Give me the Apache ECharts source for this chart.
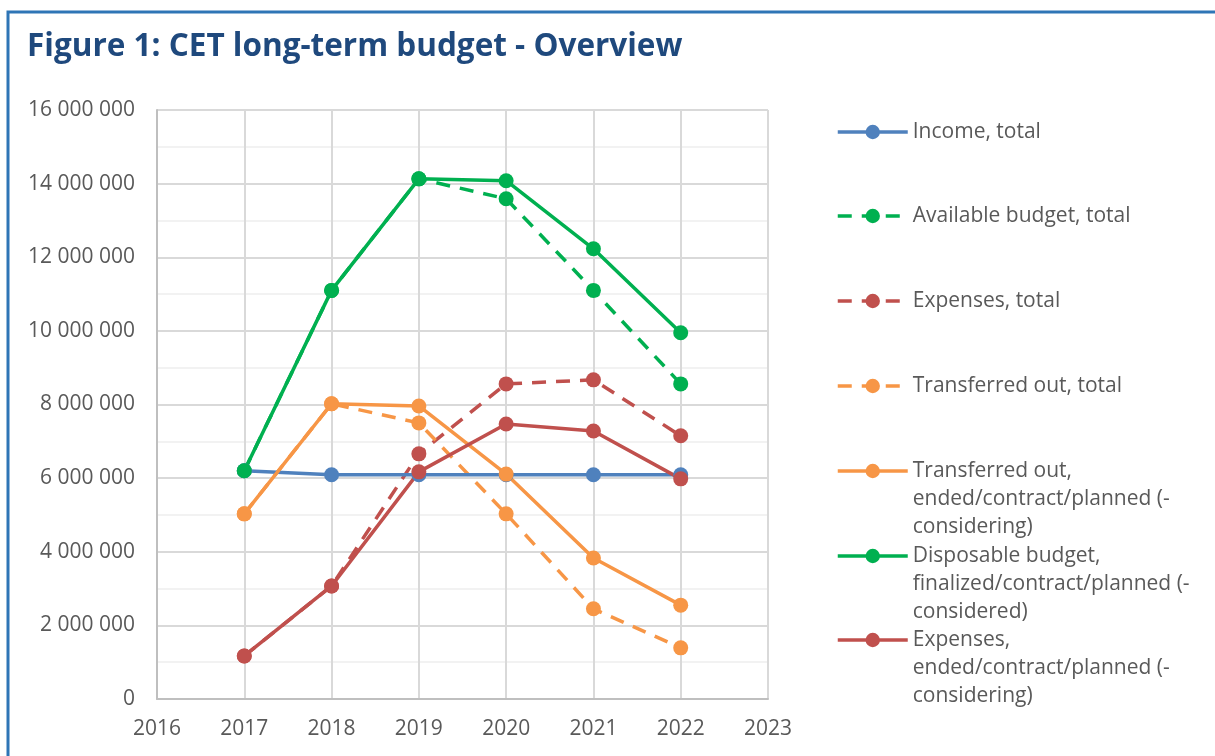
<!DOCTYPE html>
<html>
<head>
<meta charset="utf-8">
<script src="https://cdn.jsdelivr.net/npm/echarts@6/dist/echarts.min.js"></script>
<style>
  html, body { margin: 0; padding: 0; background: #fff; }
  #chart { width: 1215px; height: 756px; }
</style>
</head>
<body>
<div id="chart"></div>
<script>
// years on the x axis
const years = [2017, 2018, 2019, 2020, 2021, 2022];

// values (NOK)
const incomeTotal = [6200000, 6090000, 6090000, 6090000, 6090000, 6090000];
const availableTotal = [6200000, 11100000, 14130000, 13590000, 11100000, 8560000];
const expensesTotal = [1170000, 3070000, 6660000, 8560000, 8670000, 7150000];
const transferredTotal = [5030000, 8020000, 7500000, 5030000, 2450000, 1390000];
const transferredEnded = [5030000, 8020000, 7960000, 6110000, 3830000, 2550000];
const disposableFinal = [6200000, 11100000, 14130000, 14080000, 12230000, 9950000];
const expensesEnded = [1170000, 3070000, 6170000, 7470000, 7280000, 5980000];

const seriesNames = [
  'Income, total',
  'Available budget, total',
  'Expenses, total',
  'Transferred out, total',
  'Transferred out, ended/contract/planned (-considering)',
  'Disposable budget, finalized/contract/planned (-considered)',
  'Expenses, ended/contract/planned (-considering)',
];
// how the legend wraps the long names
const legendLines = [
  ['Income, total'],
  ['Available budget, total'],
  ['Expenses, total'],
  ['Transferred out, total'],
  ['Transferred out,', 'ended/contract/planned (-', 'considering)'],
  ['Disposable budget,', 'finalized/contract/planned (-', 'considered)'],
  ['Expenses,', 'ended/contract/planned (-', 'considering)'],
];
const seriesValues = [incomeTotal, availableTotal, expensesTotal, transferredTotal,
  transferredEnded, disposableFinal, expensesEnded];

const colors = ['#4F81BD', '#00B050', '#C0504D', '#F79646', '#F79646', '#00B050', '#C0504D'];
const dashed = [false, true, true, true, false, false, false];
const legendCenters = [132, 216, 301, 386, 471, 556, 640];

const font = '"Open Sans", "Noto Sans", sans-serif';
const textGrey = '#595959';
const lineH = 28;

const fmtNum = (v) => String(v).replace(/\B(?=(\d{3})+(?!\d))/g, ' ');

const chart = echarts.init(document.getElementById('chart'));

// one legend per item so the wrapped ones can hang their icon on the first line
const legends = seriesNames.map((name, i) => {
  const lines = legendLines[i];
  const extra = lines.length - 1;
  // blank lines on top keep the first text line level with the icon
  const text = Array(extra).fill(' ').concat(lines).join('\n');
  return {
    data: [name],
    left: 836,
    top: legendCenters[i] - (lines.length > 1 ? (2 * extra + 1) * lineH / 2 : 14),
    padding: 0,
    itemWidth: 70,
    itemHeight: 18,
    itemGap: 6,
    selectedMode: false,
    formatter: () => text,
    lineStyle: { width: 3.5 },
    textStyle: {
      fontFamily: font,
      fontSize: 21,
      color: textGrey,
      lineHeight: lineH,
    },
  };
});

const series = seriesNames.map((name, i) => ({
  name: name,
  type: 'line',
  data: years.map((y, j) => [y, seriesValues[i][j]]),
  symbol: 'circle',
  symbolSize: 15,
  color: colors[i],
  lineStyle: {
    width: 3.5,
    color: colors[i],
    type: dashed[i] ? [14, 10] : 'solid',
  },
  itemStyle: { color: colors[i] },
  emphasis: { disabled: true },
  z: dashed[i] ? 2 : 3,
}));

chart.setOption({
  animation: false,
  title: {
    text: 'Figure 1: CET long-term budget - Overview',
    left: 22,
    top: 26,
    textStyle: {
      fontFamily: font,
      fontSize: 31.5,
      fontWeight: 'bold',
      color: '#1F497D',
    },
  },
  graphic: [{
    type: 'rect',
    shape: { x: 8, y: 12, width: 1400, height: 900 },
    style: { fill: 'none', stroke: '#2E75B6', lineWidth: 3 },
    silent: true,
  }],
  legend: legends,
  grid: { left: 157, top: 110, right: 447, bottom: 57 },
  xAxis: {
    type: 'value',
    min: 2016,
    max: 2023,
    interval: 1,
    axisLine: { lineStyle: { color: '#BFBFBF', width: 2 } },
    axisTick: { show: false },
    axisLabel: { fontFamily: font, fontSize: 21, color: textGrey, margin: 20, formatter: (v) => String(v) },
    splitLine: { show: true, lineStyle: { color: '#D9D9D9', width: 2 } },
  },
  yAxis: {
    type: 'value',
    min: 0,
    max: 16000000,
    interval: 2000000,
    axisLine: { show: true, lineStyle: { color: '#BFBFBF', width: 2 } },
    axisTick: { show: false },
    axisLabel: { fontFamily: font, fontSize: 21, color: textGrey, margin: 22, formatter: fmtNum },
    splitLine: { lineStyle: { color: '#D9D9D9', width: 2 } },
    minorTick: { show: false, splitNumber: 2 },
    minorSplitLine: { show: true, lineStyle: { color: '#F2F2F2', width: 2 } },
  },
  series: series,
});
</script>
</body>
</html>
